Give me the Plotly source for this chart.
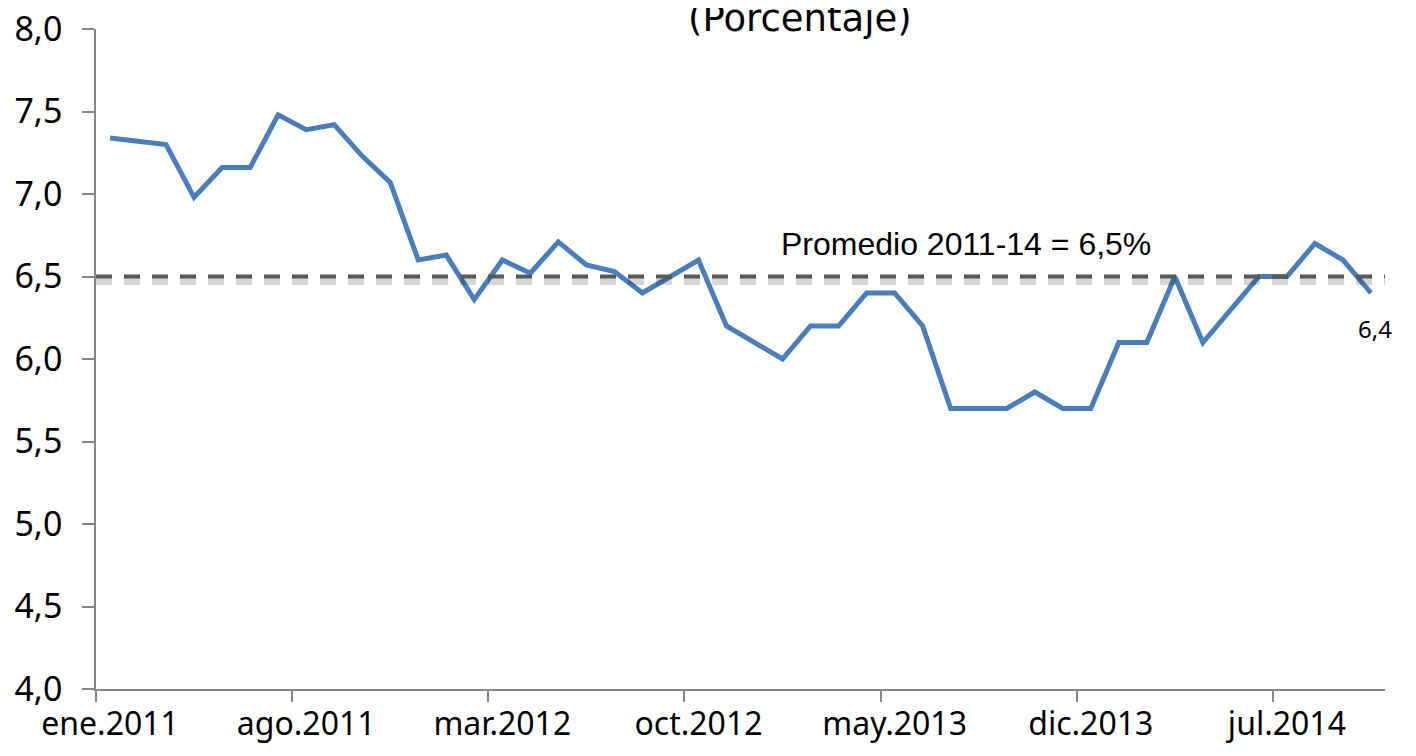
import plotly.graph_objects as go

# meses en español y años cubiertos
meses = ["ene", "feb", "mar", "abr", "may", "jun", "jul", "ago", "sep", "oct", "nov", "dic"]
anios = [2011, 2012, 2013, 2014]

# tasa mensual (porcentaje), ene.2011 - oct.2014
tasa = [7.34, 7.32, 7.30, 6.98, 7.16, 7.16, 7.48, 7.39, 7.42, 7.23, 7.07, 6.60,
        6.63, 6.36, 6.60, 6.52, 6.71, 6.57, 6.53, 6.40, 6.50, 6.60, 6.20, 6.10,
        6.00, 6.20, 6.20, 6.40, 6.40, 6.20, 5.70, 5.70, 5.70, 5.80, 5.70, 5.70,
        6.10, 6.10, 6.50, 6.10, 6.30, 6.50, 6.50, 6.70, 6.60, 6.40]
promedio = 6.5
ultimo_txt = "6,4"

etiquetas = [f"{m}.{a}" for a in anios for m in meses][:len(tasa)]
x = list(range(len(tasa)))
cada = 7  # una etiqueta cada 7 meses

fig = go.Figure()
fig.add_trace(go.Scatter(x=x, y=tasa, mode="lines", text=etiquetas,
                         line=dict(color="#4a7ebb", width=5), showlegend=False))

# sombra + linea promedio
fig.add_shape(type="line", xref="paper", x0=0, x1=1, yref="y", ysizemode="pixel",
              yanchor=promedio, y0=-5, y1=-5, layer="above",
              line=dict(color="rgba(0,0,0,0.16)", width=7, dash="16px,12px"))
fig.add_shape(type="line", xref="paper", x0=0, x1=1, yref="y", y0=promedio, y1=promedio,
              layer="above", line=dict(color="#595959", width=4, dash="16px,12px"))

fig.add_annotation(text="Promedio 2011-14 = 6,5%", xref="paper", x=0.675, xanchor="center",
                   y=promedio, yanchor="bottom", yshift=13, showarrow=False,
                   font=dict(family="Liberation Sans", size=32, color="black"))
fig.add_annotation(text=ultimo_txt, x=x[-1], y=tasa[-1], yanchor="top", yshift=-17,
                   xshift=4, showarrow=False,
                   font=dict(family="Noto Sans", size=24, color="black"))
fig.add_annotation(text="(Porcentaje)", xref="paper", yref="paper", x=0.546, xanchor="center",
                   y=1, yanchor="bottom", yshift=-13, showarrow=False,
                   font=dict(family="DejaVu Sans", size=37, color="black"))

fig.update_layout(
    width=1416, height=756,
    margin=dict(l=88, r=39, t=21, b=75),
    paper_bgcolor="white", plot_bgcolor="white",
    separators=",.",
    font=dict(family="Noto Sans", size=32, color="black"),
    xaxis=dict(range=[-0.5, len(tasa) - 0.5], tickvals=x[::cada], ticktext=etiquetas[::cada],
               ticks="", showgrid=False, zeroline=False, showline=True, automargin=False,
               linecolor="#868686", linewidth=1.5, ticklabelstandoff=6,
               ticklabeloverflow="allow",
               minor=dict(tickvals=[i - 0.5 for i in x[::cada]], ticks="outside",
                          ticklen=11, tickcolor="#868686", tickwidth=1.5, showgrid=False)),
    yaxis=dict(range=[4, 8], dtick=0.5, tickformat=".1f", ticks="outside", ticklen=12,
               tickcolor="#868686", tickwidth=1.5, showgrid=False, zeroline=False,
               automargin=False, tickfont=dict(size=34), ticklabeloverflow="allow",
               showline=True, linecolor="#868686", linewidth=1.5, ticklabelstandoff=13),
)

fig.write_html("out.html")
